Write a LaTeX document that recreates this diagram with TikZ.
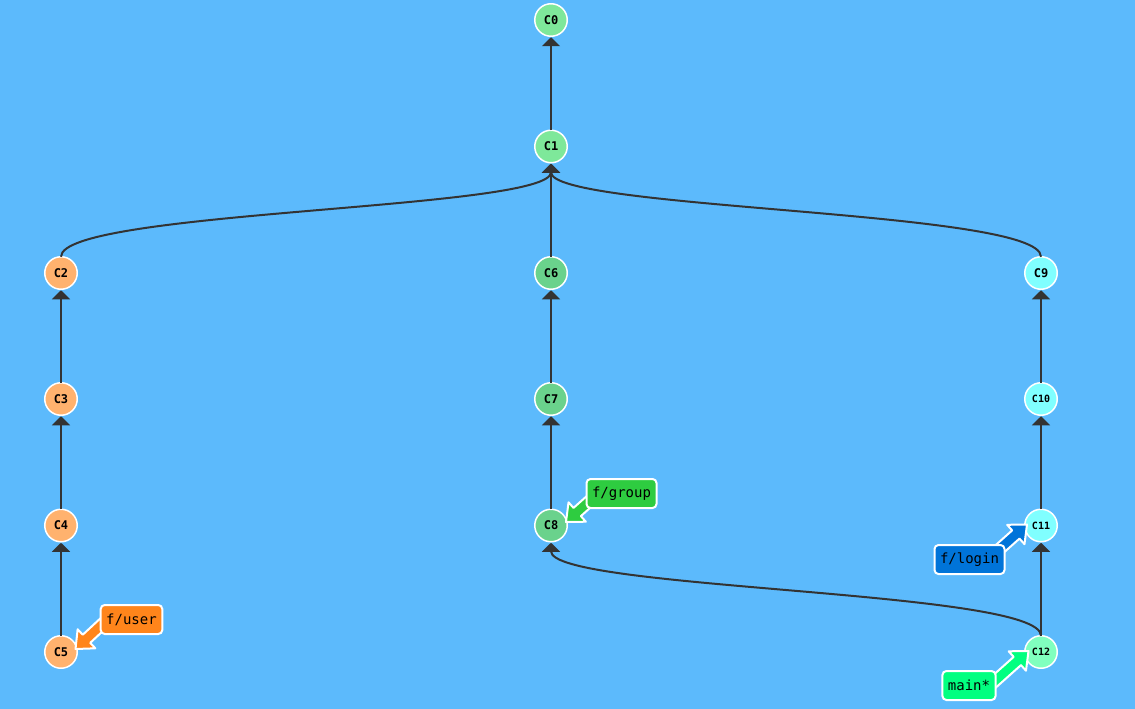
\documentclass[tikz,border=0pt]{standalone}
\usepackage{fontspec}
\setmonofont{DejaVu Sans Mono}
\usetikzlibrary{arrows.meta,calc}
\definecolor{bg}{RGB}{92,186,252}
\definecolor{edgec}{RGB}{51,51,51}
\definecolor{cA}{RGB}{126,232,154}
\definecolor{cB}{RGB}{255,178,110}
\definecolor{cC}{RGB}{106,210,140}
\definecolor{cD}{RGB}{128,255,255}
\definecolor{cE}{RGB}{128,255,190}
\definecolor{tUser}{RGB}{255,133,27}
\definecolor{tGroup}{RGB}{46,204,64}
\definecolor{tLogin}{RGB}{0,116,217}
\definecolor{tMain}{RGB}{1,255,128}
\newcommand\fatarrow[3]{%
  \path (#2) coordinate (tp) ($(tp)!15pt!(#1)$) coordinate (hb);
  \filldraw[fill=#3, draw=white, line width=2pt, line join=round]
    ($(#1)!5.5pt!90:(tp)$) -- ($(hb)!5.5pt!90:(tp)$) -- ($(hb)!13pt!90:(tp)$) -- (tp)
    -- ($(hb)!13pt!-90:(tp)$) -- ($(hb)!5.5pt!-90:(tp)$) -- ($(#1)!5.5pt!-90:(tp)$) -- cycle;
}
\begin{document}
\begin{tikzpicture}[x=1pt,y=-1pt,
  commit/.style={circle,draw=white,line width=1.5pt,minimum size=32.5pt,inner sep=0pt,outer sep=0pt,
    font=\ttfamily\bfseries\fontsize{12}{12}\selectfont},
  smalltxt/.style={font=\ttfamily\bfseries\fontsize{10}{10}\selectfont},
  edge/.style={draw=edgec, line width=2pt, -{Triangle[width=18pt,length=9pt]}, shorten >=1pt},
  tag/.style={rounded corners=4pt,draw=white,line width=2pt,inner xsep=5.5pt,inner ysep=0pt,
    minimum height=29pt,font=\ttfamily\fontsize{14}{14}\selectfont,text=black}]
\fill[bg] (0,0) rectangle (1135,709);
\useasboundingbox (0,0) rectangle (1135,709);
% commits
\node[commit,fill=cA] (C0) at (551,20) {C0};
\node[commit,fill=cA] (C1) at (551,146.5) {C1};
\node[commit,fill=cB] (C2) at (61,273) {C2};
\node[commit,fill=cB] (C3) at (61,399) {C3};
\node[commit,fill=cB] (C4) at (61,525.5) {C4};
\node[commit,fill=cB] (C5) at (61,652) {C5};
\node[commit,fill=cC] (C6) at (551,273) {C6};
\node[commit,fill=cC] (C7) at (551,399) {C7};
\node[commit,fill=cC] (C8) at (551,525.5) {C8};
\node[commit,fill=cD] (C9) at (1041,273) {C9};
\node[commit,fill=cD,smalltxt] (C10) at (1041,399) {C10};
\node[commit,fill=cD,smalltxt] (C11) at (1041,525.5) {C11};
\node[commit,fill=cE,smalltxt] (C12) at (1041,652) {C12};
% edges
\draw[edge] (C1) -- (C0);
\draw[edge] (C6) -- (C1);
\draw[edge] (C2.north) .. controls (61,210) and (551,210) .. (C1.south);
\draw[edge] (C9.north) .. controls (1041,210) and (551,210) .. (C1.south);
\draw[edge] (C3) -- (C2);
\draw[edge] (C4) -- (C3);
\draw[edge] (C5) -- (C4);
\draw[edge] (C7) -- (C6);
\draw[edge] (C8) -- (C7);
\draw[edge] (C10) -- (C9);
\draw[edge] (C11) -- (C10);
\draw[edge] (C12) -- (C11);
\draw[edge] (C12.north) .. controls (1041,590) and (551,590) .. (C8.south);
% tag arrows
\coordinate (aU) at (111,616); \coordinate (tU) at (75.5,649);
\coordinate (aG) at (603.5,488.5); \coordinate (tG) at (566,522);
\coordinate (aL) at (989.5,558); \coordinate (tL) at (1027,524.5);
\coordinate (aM) at (991,684.5); \coordinate (tM) at (1028.5,651);
\fatarrow{aU}{tU}{tUser}
\fatarrow{aG}{tG}{tGroup}
\fatarrow{aL}{tL}{tLogin}
\fatarrow{aM}{tM}{tMain}
% tags
\node[tag,fill=tUser] (fu) at (131.5,619.5) {f/user};
\node[tag,fill=tGroup] (fg) at (621.5,493.5) {f/group};
\node[tag,fill=tLogin] (fl) at (969.5,559.5) {f/login};
\node[tag,fill=tMain] (fm) at (969,685.5) {main*};
\end{tikzpicture}
\end{document}
